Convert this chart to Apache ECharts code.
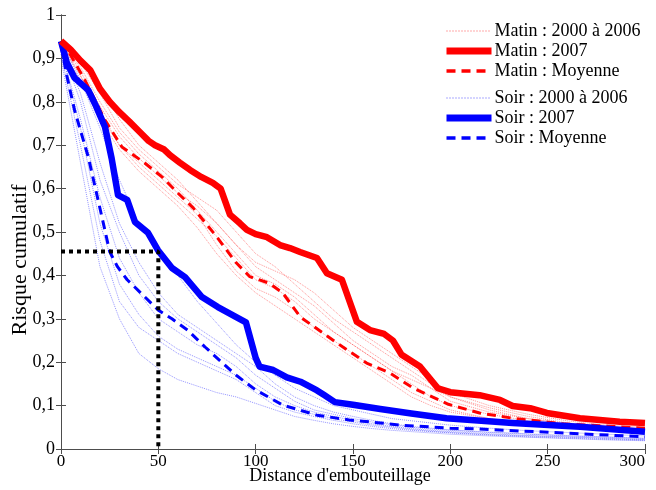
<!DOCTYPE html>
<html><head><meta charset="utf-8">
<script src="https://cdn.jsdelivr.net/npm/echarts@6/dist/echarts.min.js"></script>
<style>html,body{margin:0;padding:0;background:#fff}#c{width:656px;height:490px}</style>
</head><body><div id="c"></div>
<script>
// ---- data ----
const xTicks = [0, 50, 100, 150, 200, 250, 300];
const yTicks = [0, 0.1, 0.2, 0.3, 0.4, 0.5, 0.6, 0.7, 0.8, 0.9, 1];

const matin2007X = [0,5,10,15,20,25,30,35,40.6,45,48.3,53,56,61,66.3,72,78,82,86.8,91.9,95.5,100,105.8,112.5,117.6,122.8,131.5,136.6,144.3,152,158.7,166,170.5,175,184.4,193.6,200,215,225.5,232,241,249.6,266.6,287,300];
const matin2007Y = [0.94,0.92,0.895,0.873,0.83,0.80,0.776,0.755,0.73,0.71,0.70,0.69,0.677,0.66,0.643,0.627,0.613,0.60,0.54,0.52,0.505,0.495,0.488,0.47,0.463,0.454,0.44,0.405,0.39,0.293,0.274,0.265,0.25,0.217,0.19,0.14,0.131,0.124,0.113,0.099,0.094,0.083,0.071,0.063,0.06];

const soir2007X = [0,3,7,14,18,22.6,26,29.3,34,38,44.7,49.8,57,63.7,72.4,80.6,95,100,102,109,116,123,131.5,135,140.7,150,164,180,198,232,266.6,300];
const soir2007Y = [0.94,0.89,0.855,0.827,0.79,0.742,0.67,0.585,0.574,0.523,0.498,0.458,0.417,0.396,0.35,0.327,0.292,0.21,0.19,0.182,0.165,0.155,0.135,0.125,0.108,0.102,0.092,0.082,0.071,0.06,0.051,0.04];

const matinMoyX = [0,2,12.3,22.6,31.3,43,51.9,60,68,80,90,97,107,114,123,134.6,144.8,157,169,181,199,215,232,258,300];
const matinMoyY = [0.94,0.93,0.85,0.758,0.696,0.659,0.627,0.59,0.555,0.489,0.429,0.397,0.382,0.359,0.304,0.267,0.235,0.198,0.175,0.14,0.103,0.083,0.071,0.058,0.048];

const soirMoyX = [0,3,7,14,21,25,29,34,39.5,50,57,65,74,83,90,100,114,131.5,148,164,174,200,215,267,300];
const soirMoyY = [0.93,0.86,0.78,0.673,0.535,0.455,0.42,0.39,0.366,0.32,0.30,0.274,0.235,0.198,0.17,0.136,0.101,0.078,0.067,0.06,0.055,0.048,0.046,0.035,0.028];

// yearly curves 2000..2006, sampled at these distances
const yearX = [0,10,20,30,40,50,60,70,80,90,100,110,120,130,140,150,160,170,180,190,200,220,240,260,280,300];
const matinYears = [
  [0.94,0.90,0.84,0.76,0.70,0.66,0.62,0.57,0.52,0.47,0.43,0.41,0.39,0.36,0.32,0.28,0.25,0.22,0.19,0.16,0.13,0.10,0.08,0.065,0.055,0.05],
  [0.93,0.88,0.80,0.73,0.68,0.64,0.60,0.55,0.50,0.45,0.40,0.38,0.35,0.31,0.27,0.24,0.21,0.18,0.15,0.12,0.10,0.08,0.065,0.055,0.048,0.043],
  [0.94,0.86,0.77,0.70,0.66,0.62,0.58,0.54,0.47,0.41,0.37,0.35,0.32,0.28,0.25,0.22,0.19,0.16,0.13,0.11,0.09,0.07,0.06,0.05,0.045,0.04],
  [0.93,0.89,0.82,0.74,0.69,0.65,0.61,0.58,0.55,0.50,0.45,0.42,0.38,0.34,0.30,0.27,0.24,0.21,0.18,0.15,0.12,0.095,0.075,0.06,0.052,0.046],
  [0.92,0.85,0.76,0.69,0.64,0.60,0.56,0.51,0.45,0.40,0.36,0.33,0.30,0.27,0.24,0.21,0.18,0.15,0.12,0.10,0.085,0.07,0.058,0.05,0.044,0.04],
  [0.94,0.87,0.79,0.72,0.67,0.63,0.59,0.56,0.52,0.47,0.42,0.39,0.36,0.33,0.29,0.25,0.22,0.19,0.17,0.14,0.11,0.085,0.07,0.058,0.05,0.045],
  [0.93,0.86,0.78,0.70,0.65,0.61,0.57,0.53,0.49,0.44,0.39,0.37,0.34,0.30,0.27,0.24,0.21,0.18,0.16,0.14,0.12,0.09,0.07,0.057,0.05,0.045]
];
const soirYears = [
  [0.94,0.85,0.74,0.62,0.52,0.45,0.40,0.34,0.29,0.24,0.20,0.17,0.14,0.12,0.10,0.09,0.08,0.07,0.065,0.06,0.055,0.048,0.042,0.038,0.034,0.03],
  [0.93,0.80,0.62,0.50,0.40,0.34,0.30,0.27,0.24,0.21,0.17,0.14,0.11,0.09,0.08,0.07,0.062,0.056,0.05,0.046,0.043,0.038,0.034,0.03,0.027,0.024],
  [0.92,0.76,0.58,0.44,0.36,0.30,0.27,0.24,0.22,0.19,0.15,0.12,0.10,0.085,0.075,0.066,0.058,0.052,0.047,0.043,0.04,0.035,0.031,0.028,0.025,0.022],
  [0.92,0.74,0.52,0.38,0.31,0.26,0.23,0.21,0.19,0.17,0.14,0.11,0.09,0.08,0.07,0.062,0.055,0.05,0.045,0.041,0.038,0.033,0.03,0.027,0.024,0.021],
  [0.91,0.70,0.48,0.34,0.28,0.25,0.22,0.20,0.18,0.16,0.13,0.10,0.085,0.075,0.066,0.058,0.052,0.047,0.043,0.04,0.037,0.032,0.028,0.025,0.022,0.02],
  [0.90,0.66,0.42,0.30,0.22,0.185,0.16,0.145,0.13,0.12,0.105,0.09,0.075,0.066,0.058,0.052,0.047,0.043,0.04,0.037,0.034,0.03,0.027,0.024,0.021,0.019],
  [0.93,0.82,0.66,0.52,0.43,0.36,0.31,0.28,0.25,0.22,0.19,0.15,0.12,0.10,0.085,0.075,0.066,0.058,0.052,0.048,0.044,0.039,0.035,0.031,0.028,0.025]
];

// marker of the reading at distance 50
const markX = [0, 50, 50];
const markY = [0.455, 0.455, 0];

const names = {
  mY: 'Matin : 2000 à 2006', m7: 'Matin : 2007', mM: 'Matin : Moyenne',
  sY: 'Soir : 2000 à 2006', s7: 'Soir : 2007', sM: 'Soir : Moyenne'
};

// ---- chart ----
const FONT = 'Liberation Serif';
const RED = '#ff0000', BLUE = '#0000ff', FRAME = '#4d4d4d';
const zip = (xs, ys) => xs.map((x, i) => [x, ys[i]]);
const fmt = v => (v === 0 ? '0' : v === 1 ? '1' : v.toFixed(1).replace('.', ','));

const series = [];
matinYears.forEach(ys => series.push({
  name: names.mY, type: 'line', symbol: 'none', data: zip(yearX, ys), z: 2,
  lineStyle: { color: 'rgba(255,60,60,0.55)', width: 1, type: 'dotted' }, itemStyle: { color: RED }
}));
soirYears.forEach(ys => series.push({
  name: names.sY, type: 'line', symbol: 'none', data: zip(yearX, ys), z: 2,
  lineStyle: { color: 'rgba(60,60,255,0.55)', width: 1, type: 'dotted' }, itemStyle: { color: BLUE }
}));
series.push({ name: names.mM, type: 'line', symbol: 'none', data: zip(matinMoyX, matinMoyY), z: 3,
  lineStyle: { color: RED, width: 3, type: [9, 6] }, itemStyle: { color: RED } });
series.push({ name: names.sM, type: 'line', symbol: 'none', data: zip(soirMoyX, soirMoyY), z: 3,
  lineStyle: { color: BLUE, width: 3, type: [9, 6] }, itemStyle: { color: BLUE } });
series.push({ name: names.s7, type: 'line', symbol: 'none', data: zip(soir2007X, soir2007Y), z: 4,
  lineStyle: { color: BLUE, width: 6.5, join: 'round' }, itemStyle: { color: BLUE } });
series.push({ name: names.m7, type: 'line', symbol: 'none', data: zip(matin2007X, matin2007Y), z: 4,
  lineStyle: { color: RED, width: 6.5, join: 'round' }, itemStyle: { color: RED } });
series.push({ name: 'mark', type: 'line', symbol: 'none', data: zip(markX, markY), z: 5,
  lineStyle: { color: '#000', width: 4, type: [4, 4] }, silent: true });

const legendBase = {
  orient: 'vertical', left: 443, itemWidth: 45, itemHeight: 12, itemGap: 2,
  textStyle: { fontFamily: FONT, fontSize: 18, color: '#000', padding: [0, 0, 0, -2] },
  itemStyle: { color: 'transparent', borderWidth: 0, opacity: 0 },
  backgroundColor: '#fff', padding: 0
};
const legItem = (name, color, width, type) => ({ name: name,
  lineStyle: { color: color, width: width, type: type } });

const axisCommon = {
  axisLine: { show: true, lineStyle: { color: FRAME, width: 1 } },
  axisTick: { show: true, inside: true, length: 5, lineStyle: { color: FRAME } },
  splitLine: { show: false }
};

const option = {
  animation: false,
  backgroundColor: '#fff',
  grid: { left: 61, right: 11, top: 15, bottom: 41, containLabel: false, outerBoundsMode: 'none' },
  legend: [
    Object.assign({}, legendBase, { top: 22, data: [
      legItem(names.mY, 'rgba(255,40,40,0.8)', 1, [1, 2]),
      legItem(names.m7, RED, 7, 'solid'),
      legItem(names.mM, RED, 3.5, [9, 6])] }),
    Object.assign({}, legendBase, { top: 89, data: [
      legItem(names.sY, 'rgba(40,40,255,0.8)', 1, [1, 2]),
      legItem(names.s7, BLUE, 7, 'solid'),
      legItem(names.sM, BLUE, 3.5, [9, 6])] })
  ],
  xAxis: [
    Object.assign({ type: 'value', min: 0, max: 300, interval: 50, position: 'bottom',
      name: "Distance d'embouteillage", nameLocation: 'middle', nameGap: 18, nameMoveOverlap: false,
      nameTextStyle: { fontFamily: FONT, fontSize: 18, color: '#000', padding: [0, 26, 0, 0] },
      axisLabel: { fontFamily: FONT, fontSize: 17, color: '#000', margin: 4, alignMaxLabel: 'right',
        formatter: v => (xTicks.includes(v) ? String(v) : '') } }, axisCommon),
    Object.assign({ type: 'value', min: 0, max: 300, interval: 50, position: 'top',
      axisLabel: { show: false } }, axisCommon)
  ],
  yAxis: [
    Object.assign({ type: 'value', min: 0, max: 1, interval: 0.1, position: 'left',
      name: 'Risque cumulatif', nameLocation: 'middle', nameGap: 30, nameRotate: 90, nameMoveOverlap: false,
      nameTextStyle: { fontFamily: FONT, fontSize: 22, color: '#000', padding: [0, 56, 0, 0] },
      axisLabel: { fontFamily: FONT, fontSize: 18, color: '#000', margin: 6,
        formatter: v => (yTicks.some(t => Math.abs(t - v) < 1e-9) ? fmt(v) : '') } }, axisCommon),
    Object.assign({ type: 'value', min: 0, max: 1, interval: 0.1, position: 'right',
      axisLabel: { show: false } }, axisCommon)
  ],
  series: series
};

const chart = echarts.init(document.getElementById('c'), null, { renderer: 'canvas' });
chart.setOption(option);
</script>
</body></html>
